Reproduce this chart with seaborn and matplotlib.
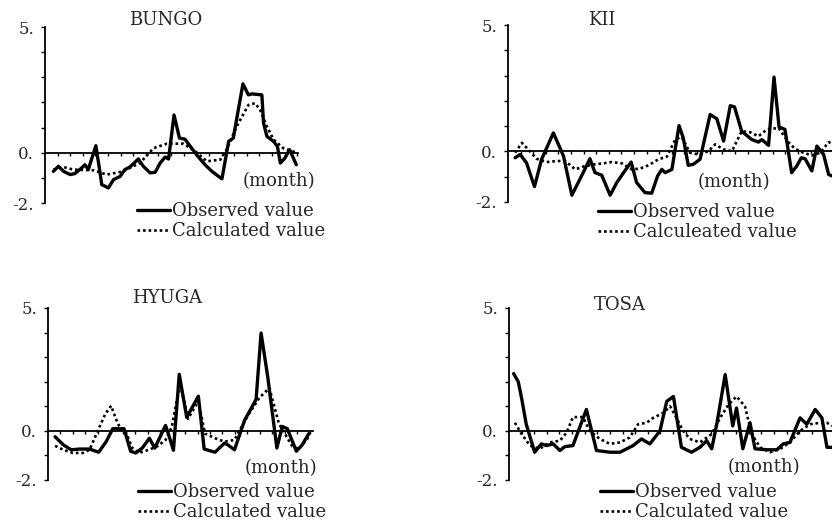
import matplotlib
matplotlib.use("Agg")
import matplotlib.pyplot as plt
import numpy as np
import pandas as pd
import seaborn as sns

# month index vs. anomaly
bungo_obs_x = [2.0, 3.2, 4.4, 6.0, 7.1, 8.7, 9.5, 10.3, 12.1, 13.1, 13.5, 15.1, 16.3, 17.9, 19.0,
               20.2, 22.2, 23.4, 25.0, 26.2, 27.4, 28.6, 29.4, 30.7, 32.0, 33.3, 34.9, 36.5, 38.1,
               39.7, 42.1, 43.7, 44.8, 47.1, 48.4, 49.2, 51.6, 52.0, 52.8, 54.4, 55.3, 56.0, 57.1,
               58.2, 59.8]
bungo_obs_y = [-0.74, -0.54, -0.74, -0.87, -0.83, -0.61, -0.48, -0.67, 0.28, -0.80, -1.27, -1.40,
               -1.07, -0.94, -0.67, -0.57, -0.25, -0.54, -0.80, -0.78, -0.41, -0.17, -0.25, 1.50,
               0.58, 0.54, 0.18, -0.17, -0.48, -0.74, -1.04, 0.45, 0.58, 2.74, 2.30, 2.34, 2.30,
               1.18, 0.65, 0.45, 0.25, -0.41, -0.21, 0.12, -0.48]
bungo_calc_x = [2.0, 4.4, 6.7, 11.5, 14.7, 18.6, 22.6, 25.8, 29.0, 32.9, 35.3, 38.5, 41.7, 43.2,
                45.6, 48.4, 50.0, 51.2, 52.8, 54.4, 56.7, 59.9]
bungo_calc_y = [-0.67, -0.57, -0.67, -0.70, -0.87, -0.74, -0.41, 0.18, 0.36, 0.36, 0.12, -0.34,
                -0.28, 0.12, 1.04, 1.90, 1.97, 1.70, 1.04, 0.52, 0.18, 0.0]

kii_obs_x = [1.7, 2.9, 4.4, 6.3, 8.0, 10.8, 13.2, 15.2, 17.5, 19.5, 20.7, 22.3, 24.3, 25.9, 27.5,
             29.3, 30.6, 32.6, 34.2, 35.6, 36.6, 37.4, 39.0, 40.7, 41.7, 42.9, 44.1, 45.7, 48.1,
             49.7, 51.3, 52.9, 53.9, 55.6, 58.0, 59.6, 60.4, 62.0, 63.3, 64.5, 65.9, 67.5, 68.7,
             69.8, 70.7, 72.3, 73.5, 75.1, 76.3, 77.1]
kii_obs_y = [-0.25, -0.12, -0.45, -1.39, -0.31, 0.73, -0.18, -1.73, -0.97, -0.29, -0.84, -0.94,
             -1.73, -1.23, -0.84, -0.42, -1.23, -1.63, -1.65, -0.97, -0.71, -0.84, -0.71, 1.02,
             0.54, -0.55, -0.51, -0.31, 1.46, 1.29, 0.41, 1.81, 1.76, 0.80, 0.47, 0.37, 0.47,
             0.24, 2.94, 0.97, 0.87, -0.84, -0.58, -0.25, -0.29, -0.77, 0.21, -0.12, -0.91, -0.97]
kii_calc_x = [1.7, 3.3, 4.8, 6.8, 9.2, 11.6, 13.6, 16.0, 18.3, 20.7, 22.7, 24.7, 27.1, 29.4, 31.4,
              33.4, 35.8, 37.8, 39.8, 41.3, 43.3, 45.3, 47.7, 49.3, 51.3, 53.3, 55.6, 57.6, 59.6,
              61.6, 64.4, 66.7, 68.3, 70.3, 72.3, 74.3, 76.3, 77.1]
kii_calc_y = [-0.05, 0.34, 0.08, -0.29, -0.42, -0.38, -0.38, -0.71, -0.58, -0.51, -0.47, -0.42,
              -0.47, -0.71, -0.68, -0.55, -0.31, -0.21, 0.47, 0.58, -0.05, -0.12, 0.01, 0.28,
              0.08, 0.01, 0.80, 0.76, 0.60, 0.87, 0.93, 0.37, 0.10, -0.05, -0.16, -0.05, 0.37, 0.30]

hyuga_obs_x = [1.7, 3.7, 5.6, 7.6, 10.0, 12.2, 14.0, 15.6, 18.3, 19.9, 21.1, 22.7, 24.4, 25.7,
               28.3, 29.2, 30.2, 31.6, 33.4, 36.2, 37.6, 40.2, 42.5, 43.3, 44.9, 47.3, 50.1, 51.3,
               52.9, 55.1, 56.4, 57.6, 59.8, 61.2, 62.8]
hyuga_obs_y = [-0.24, -0.57, -0.77, -0.74, -0.74, -0.87, -0.44, 0.09, 0.09, -0.83, -0.90, -0.70,
               -0.30, -0.70, 0.22, -0.24, -0.79, 2.30, 0.55, 1.41, -0.74, -0.87, -0.50, -0.57,
               -0.77, 0.42, 1.28, 3.98, 2.20, -0.70, 0.18, 0.09, -0.83, -0.57, -0.11]
hyuga_calc_x = [1.7, 3.7, 6.0, 8.4, 10.0, 12.4, 13.8, 15.2, 16.2, 17.5, 18.7, 20.3, 21.9, 24.3,
                26.3, 28.3, 29.8, 31.8, 33.7, 36.2, 37.8, 40.2, 42.5, 44.9, 48.1, 50.9, 53.3,
                55.6, 57.0, 58.8, 60.4, 62.8]
hyuga_calc_y = [-0.61, -0.77, -0.90, -0.90, -0.77, 0.16, 0.69, 1.02, 0.55, 0.05, -0.04, -0.70,
                -0.90, -0.77, -0.63, -0.37, 0.16, 1.94, 0.49, 1.21, -0.11, -0.30, -0.44, -0.37,
                0.62, 1.35, 1.74, 0.29, -0.11, -0.63, -0.74, -0.24]

tosa_obs_x = [1.1, 2.2, 3.0, 4.1, 6.1, 7.7, 8.9, 10.5, 12.1, 13.3, 15.2, 18.4, 20.8, 24.0, 26.4,
              29.5, 31.5, 33.5, 35.9, 37.5, 39.1, 41.0, 43.4, 45.4, 47.0, 48.2, 49.4, 51.4, 53.2,
              54.1, 55.6, 57.3, 58.5, 61.3, 63.7, 65.2, 66.8, 69.2, 70.8, 72.8, 74.4, 75.6, 76.8]
tosa_obs_y = [2.33, 2.00, 1.33, 0.27, -0.87, -0.53, -0.60, -0.53, -0.80, -0.64, -0.60, 0.87,
              -0.80, -0.87, -0.87, -0.60, -0.33, -0.53, 0.0, 1.20, 1.40, -0.67, -0.87, -0.67,
              -0.40, -0.73, 0.27, 2.29, 0.20, 0.93, -0.73, 0.33, -0.73, -0.77, -0.77, -0.53,
              -0.47, 0.53, 0.27, 0.87, 0.53, -0.67, -0.67]
tosa_calc_x = [1.4, 3.0, 5.0, 7.3, 9.7, 12.1, 13.7, 15.2, 17.6, 19.2, 21.6, 24.0, 26.4, 28.7,
               30.7, 32.7, 34.3, 36.7, 38.3, 39.8, 41.4, 43.0, 45.4, 48.2, 50.2, 52.2, 54.1,
               56.1, 57.7, 59.7, 62.1, 64.5, 66.8, 69.2, 71.6, 74.0, 75.6, 76.8]
tosa_calc_y = [0.33, -0.13, -0.60, -0.73, -0.47, -0.40, -0.07, 0.56, 0.56, 0.0, -0.33, -0.53,
               -0.47, -0.27, 0.27, 0.33, 0.53, 0.73, 1.00, 0.53, 0.0, -0.33, -0.47, -0.13, 0.53,
               1.07, 1.40, 1.00, -0.13, -0.67, -0.87, -0.73, -0.47, 0.0, 0.27, 0.33, 0.33, 0.20]

panels = [
    # name, obs, calc, calc label, axes box in pixels (left, top, right, bottom), xmax
    ("BUNGO", (bungo_obs_x, bungo_obs_y), (bungo_calc_x, bungo_calc_y), "Calculated value",
     (45, 27, 298, 203), 60.2),
    ("KII", (kii_obs_x, kii_obs_y), (kii_calc_x, kii_calc_y), "Calculeated value",
     (508, 25, 832, 202), 77.1),
    ("HYUGA", (hyuga_obs_x, hyuga_obs_y), (hyuga_calc_x, hyuga_calc_y), "Calculated value",
     (48, 308, 313, 480), 63.8),
    ("TOSA", (tosa_obs_x, tosa_obs_y), (tosa_calc_x, tosa_calc_y), "Calculated value",
     (509, 308, 832, 480), 76.8),
]
# title centre, "(month)" left/centre, legend left/centre (pixels)
title_pos = [(166, 20), (602, 20), (167, 298), (620, 305)]
month_pos = [(243, 181), (698, 182), (245, 468), (728, 467)]
legend_pos = [(137, 221), (598, 222), (138, 502), (600, 502)]

W, H = 832, 522
sns.set_style("white")
plt.rcParams["font.family"] = ["DejaVu Serif"]

fig = plt.figure(figsize=(W / 100, H / 100), dpi=100)

for i, (name, obs, calc, calc_label, box, xmax) in enumerate(panels):
    l, t, r, b = box
    ax = fig.add_axes([l / W, 1 - b / H, (r - l) / W, (b - t) / H])
    df = pd.concat([
        pd.DataFrame({"month": obs[0], "value": obs[1], "series": "obs"}),
        pd.DataFrame({"month": calc[0], "value": calc[1], "series": "calc"}),
    ])
    sns.lineplot(data=df, x="month", y="value", hue="series", style="series", size="series",
                 hue_order=["obs", "calc"], style_order=["obs", "calc"], size_order=["obs", "calc"],
                 palette={"obs": "black", "calc": "black"},
                 dashes={"obs": "", "calc": (1, 1.1)},
                 sizes={"obs": 2.4, "calc": 1.9},
                 estimator=None, sort=False, legend=False, ax=ax)

    ax.set_xlim(0, xmax)
    ax.set_ylim(-2, 5)
    ax.set_xlabel("")
    ax.set_ylabel("")
    for s in ("top", "right"):
        ax.spines[s].set_visible(False)
    ax.spines["bottom"].set_position(("data", 0))
    ax.spines["bottom"].set_linewidth(1.3)
    ax.spines["left"].set_linewidth(1.3)
    ax.spines["bottom"].set_color("black")
    ax.spines["left"].set_color("black")

    ax.set_xticks(np.arange(3, xmax, 3))
    ax.tick_params(axis="x", direction="out", length=2.5, width=1, labelbottom=False,
                   bottom=True, color="black")
    ax.set_yticks(np.arange(-2, 6))
    ax.set_yticklabels(["-2.", "", "0.", "", "", "", "", "5."])
    ax.tick_params(axis="y", direction="out", length=3, width=1, pad=5, labelsize=12,
                   left=True, color="black")

    tx, ty = title_pos[i]
    fig.text(tx / W, 1 - ty / H, name, ha="center", va="center", fontsize=13)
    mx, my = month_pos[i]
    fig.text(mx / W, 1 - my / H, "(month)", ha="left", va="center", fontsize=13)

    lx, ly = legend_pos[i]
    ax.legend(handles=ax.lines[:2], labels=["Observed value", calc_label],
              loc="center left", bbox_to_anchor=(lx / W, 1 - ly / H),
              bbox_transform=fig.transFigure, frameon=False, fontsize=13,
              handlelength=1.8, handletextpad=0.15, labelspacing=0.1,
              borderpad=0, borderaxespad=0)

fig.savefig("out.png", dpi=100)
